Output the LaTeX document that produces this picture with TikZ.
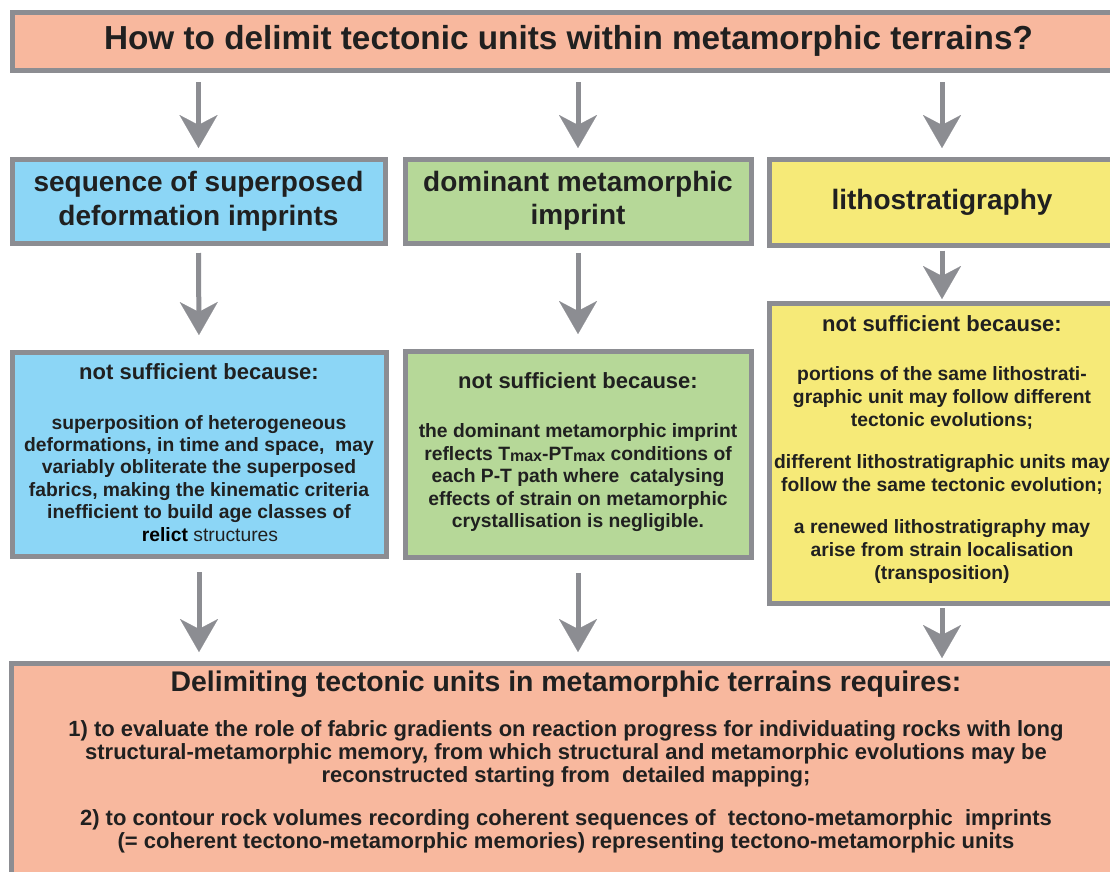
\documentclass[tikz,border=0pt]{standalone}
\usepackage{fontspec}
\setmainfont{Liberation Sans}
\usetikzlibrary{arrows.meta}
\definecolor{salmon}{RGB}{248,184,158}
\definecolor{skyb}{RGB}{140,214,246}
\definecolor{leaf}{RGB}{182,216,152}
\definecolor{lemon}{RGB}{246,234,120}
\definecolor{frame}{RGB}{140,141,146}
\definecolor{ink}{RGB}{32,32,32}
\newcommand{\wsp}{\spaceskip=0.278em\relax\xspaceskip=0.278em\relax}
\newcommand{\hdr}{\fontsize{22}{26}\selectfont\wsp}
\newcommand{\bdy}{\fontsize{19.3}{22.4}\selectfont\wsp}
\newcommand{\ybdy}{\fontsize{19.3}{23}\selectfont\wsp}
\newcommand{\bbdy}{\fontsize{22}{23}\selectfont\wsp}
\newcommand{\sm}[1]{\raisebox{-1pt}{\fontsize{16}{16}\selectfont #1}}
\tikzset{
  box/.style={draw=frame, line width=5pt, rectangle, inner sep=0pt, text=ink, font=\bfseries, align=center},
  arr/.style={draw=frame, line width=5pt, -{Stealth[length=33pt,width=38pt,inset=10pt,line width=0.1pt]}},
}
\begin{document}
\begin{tikzpicture}[x=1pt,y=-1pt]
\useasboundingbox (0,0) rectangle (1110,871);
\fill[white] (0,0) rectangle (1110,871);

% title
\node[box, fill=salmon, minimum width=1113pt, minimum height=58pt,
      font=\bfseries\fontsize{33.3}{38}\selectfont] (top) at (568.5,41)
  {How to delimit tectonic units within metamorphic terrains?};

% row 2 headings
\node[box, fill=skyb, minimum width=373pt, minimum height=84pt,
      font=\bfseries\fontsize{28}{34}\selectfont] (bh) at (198.5,201)
  {sequence of superposed\\deformation imprints};
\node[box, fill=leaf, minimum width=346pt, minimum height=84pt,
      font=\bfseries\fontsize{28}{33}\selectfont] (gh) at (578,201)
  {dominant metamorphic\\imprint};
\node[box, fill=lemon, minimum width=346pt, minimum height=86pt,
      font=\bfseries\fontsize{28}{34}\selectfont] (yh) at (942,202)
  {lithostratigraphy};

% row 3 bodies
\node[box, fill=skyb, minimum width=374pt, minimum height=204pt, text width=364pt] (bb) at (199,454)
  {\hdr not sufficient because:\par\vspace{27pt}
   \bdy superposition of heterogeneous\\
   deformations, in time and space,\ \ may\\
   variably obliterate the superposed\\
   fabrics, making the kinematic criteria\\
   inefficient to build age classes of\\
   \hspace*{22pt}{\color{black}relict} {\mdseries structures}\par\vspace{3pt}};
\node[box, fill=leaf, minimum width=346pt, minimum height=206pt, text width=346pt] (gb) at (578,454)
  {\hdr not sufficient because:\par\vspace{27pt}
   \bdy the dominant metamorphic imprint\\
   reflects T\sm{max}-PT\sm{max} conditions of\\
   each P-T path where\ \ catalysing\\
   effects of strain on metamorphic\\
   crystallisation is negligible.\par\vspace{4pt}};
\node[box, fill=lemon, minimum width=346pt, minimum height=300pt, text width=346pt] (yb) at (942,453)
  {\hdr not sufficient because:\par\vspace{26pt}
   \ybdy portions of the same lithostrati-\\
   graphic unit may follow different\\
   tectonic evolutions;\par\vspace{19pt}
   different lithostratigraphic units may\\
   follow the same tectonic evolution;\par\vspace{19pt}
   a renewed lithostratigraphy may\\
   arise from strain localisation\\
   (transposition)\par\vspace{6pt}};

% bottom box
\node[box, fill=salmon, minimum width=1114pt, minimum height=217pt] (bot) at (568,771.5) {};
\node[text=ink, font=\bfseries, align=center, text width=1090pt, inner sep=0pt] (bottxt) at (566,762)
  {\fontsize{28.4}{32}\selectfont\wsp Delimiting tectonic units in metamorphic terrains requires:\par\vspace{22pt}
   \bbdy 1) to evaluate the role of fabric gradients on reaction progress for individuating rocks with long\\
   structural-metamorphic memory, from which structural and metamorphic evolutions may be\\
   reconstructed starting from\ \ detailed mapping;\par\vspace{20pt}
   2) to contour rock volumes recording coherent sequences of\ \ tectono-metamorphic\ \ imprints\\
   (= coherent tectono-metamorphic memories) representing tectono-metamorphic units\par};

% arrows row 1
\draw[arr, shorten <=9.5pt, shorten >=8.5pt] (top.south -| bh.center) -- (bh.north);
\draw[arr, shorten <=9.5pt, shorten >=8.5pt] (top.south -| gh.center) -- (gh.north);
\draw[arr, shorten <=9.5pt, shorten >=8.5pt] (top.south -| yh.center) -- (yh.north);
% arrows row 2
\draw[arr, shorten <=7.5pt, shorten >=14.5pt] (bh.south) -- (bb.north);
\draw[arr, shorten <=7.5pt, shorten >=14.5pt] (gh.south) -- (gb.north);
\draw[arr, shorten <=3pt, shorten >=1.5pt] (yh.south) -- (yb.north);
% arrows row 3
\draw[arr, shorten <=13.5pt, shorten >=8.5pt] (bb.south) -- (bb.south |- bot.north);
\draw[arr, shorten <=13.5pt, shorten >=8.5pt] (gb.south) -- (gb.south |- bot.north);
\draw[arr, shorten <=2.5pt, shorten >=2.5pt] (yb.south) -- (yb.south |- bot.north);
\end{tikzpicture}
\end{document}
